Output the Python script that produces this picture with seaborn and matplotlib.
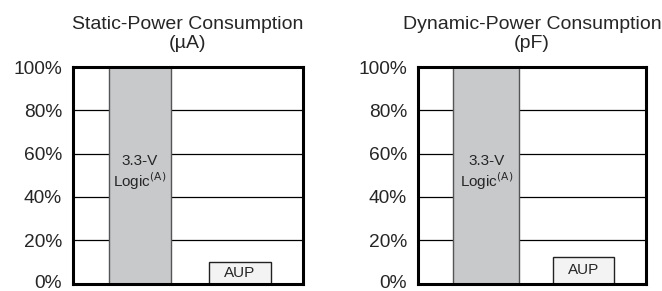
import numpy as np
import pandas as pd
import matplotlib
matplotlib.use("Agg")
import matplotlib.pyplot as plt
import matplotlib.transforms as mtrans
import seaborn as sns

# values (percent of 3.3-V logic)
categories = ["3.3-V Logic", "AUP"]
static_pct = [100, 9.7]
dynamic_pct = [100, 12.4]
titles = ["Static-Power Consumption\n(\u00b5A)", "Dynamic-Power Consumption\n(pF)"]
ytick_vals = [0, 20, 40, 60, 80, 100]
ytick_labels = ["0%", "20%", "40%", "60%", "80%", "100%"]

sns.set_style("white")
plt.rcParams["font.family"] = ["Liberation Sans", "DejaVu Sans"]

fig = plt.figure(figsize=(6.62, 2.91), dpi=100)
ax1 = fig.add_axes([73 / 662, 7.5 / 291, 230 / 662, 216.5 / 291])
ax2 = fig.add_axes([418 / 662, 7.5 / 291, 228 / 662, 216.5 / 291])

panels = [(ax1, static_pct, 0.62, (-0.67, 1.63)),
          (ax2, dynamic_pct, 0.68, (-0.70, 1.64))]

for i, (ax, vals, w, xl) in enumerate(panels):
    df = pd.DataFrame({"cat": categories, "pct": vals})
    sns.barplot(data=df, x="cat", y="pct", ax=ax, width=w,
                palette=["#c8c9cb", "#f3f3f3"], hue="cat", legend=False,
                edgecolor="#555555", linewidth=1.0, zorder=2)
    ax.patches[1].set_edgecolor("#222222")
    # AUP bar is a bit narrower than the gray one
    p = ax.patches[1]
    cx = p.get_x() + p.get_width() / 2
    p.set_width(0.62)
    p.set_x(cx - 0.31)
    ax.set_xlim(*xl)
    ax.set_ylim(0, 100)
    ax.set_yticks(ytick_vals)
    ax.set_yticklabels(ytick_labels, fontsize=13.8)
    ax.set_xticks([])
    ax.set_xlabel("")
    ax.set_ylabel("")
    ax.tick_params(axis="y", length=0, pad=8)
    # keep the 0% label inside the figure
    lab0 = ax.get_yticklabels()[0]
    lab0.set_transform(lab0.get_transform() +
                       mtrans.ScaledTranslation(0, 2.5 / 100, fig.dpi_scale_trans))
    ax.set_axisbelow(True)
    ax.yaxis.grid(True, color="black", linewidth=0.9)
    for s in ax.spines.values():
        s.set_visible(True)
        s.set_color("black")
        s.set_linewidth(2.2)
        s.set_zorder(5)
    ax.set_title(titles[i], fontsize=14, pad=14, linespacing=1.1)
    ax.text(0, 51, "3.3-V\nLogic$^{\\rm (A)}$", ha="center", va="center",
            fontsize=11, linespacing=1.15, zorder=3)
    ax.text(1, vals[1] / 2, "AUP", ha="center", va="center",
            fontsize=11, zorder=3)

fig.savefig("out.png", dpi=100)
